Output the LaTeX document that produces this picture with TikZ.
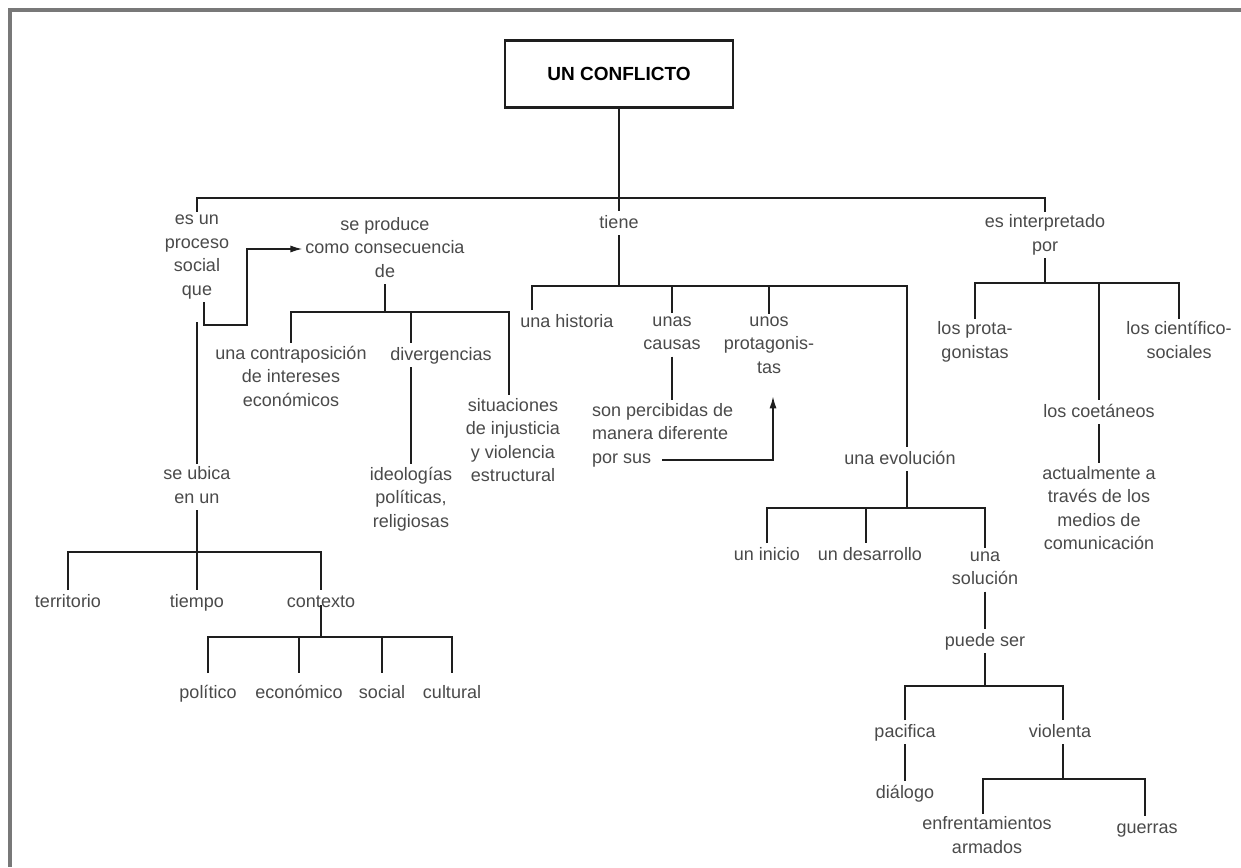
\documentclass[tikz,border=0pt]{standalone}
\usepackage{fontspec}
\setmainfont{Liberation Sans}
\usetikzlibrary{arrows.meta}
\definecolor{txtgray}{HTML}{4A4A4A}
\definecolor{lncol}{HTML}{1E1E1E}
\definecolor{frm}{HTML}{787878}
\newcommand\lblstrut{\rule[-4pt]{0pt}{18pt}}
\begin{document}
\begin{tikzpicture}[x=1pt,y=-1pt,
  lbl/.style={font=\fontsize{18}{23.5}\selectfont, text=txtgray, align=center, inner sep=3pt, outer sep=0pt,
    execute at begin node=\lblstrut, execute at end node=\lblstrut},
  ln/.style={draw=lncol, line width=1.5pt},
  arr/.style={ln, -{Latex[length=12pt,width=7pt]}}]
\useasboundingbox (0,0) rectangle (1241,867);
\fill[white] (0,0) rectangle (1241,867);
\fill[frm] (8,8) rectangle (1241,12);
\fill[frm] (8,8) rectangle (12,867);

% root
\node[draw=lncol, line width=1.5pt, minimum width=228pt, minimum height=68pt,
      font=\bfseries\fontsize{19}{22}\selectfont] (root) at (619,74) {UN CONFLICTO};
\draw[lncol, line width=1pt] ([yshift=-2pt]root.north west) -- ([yshift=-2pt]root.north east);
\draw[lncol, line width=1pt] ([yshift=2pt]root.south west) -- ([yshift=2pt]root.south east);

% level 1
\node[lbl] (proc) at (197,257) {es un\\proceso\\social\\que};
\node[lbl] (tiene) at (619,223) {tiene};
\node[lbl] (interp) at (1045,235) {es interpretado\\por};
\coordinate (j0) at (619,198);
\draw[ln] (root.south) -- (j0);
\draw[ln] (proc.north) |- (j0) -| (interp.north);
\draw[ln] (j0) -- (tiene.north);

% se produce
\node[lbl] (prod) at (385,249) {se produce\\como consecuencia\\de};
\coordinate (a1) at (247,325);
\draw[arr] ([xshift=7pt]proc.south) |- (a1) |- (prod.west);

\node[lbl] (contra) at (291,378) {una contraposición\\de intereses\\económicos};
\node[lbl] (diverg) at (441,355) {divergencias};
\node[lbl] (situ) at (513,442) {situaciones\\de injusticia\\y violencia\\estructural};
\node[lbl] (ideol) at (411,499) {ideologías\\políticas,\\religiosas};
\coordinate (j3) at (385,312);
\draw[ln] (prod.south) -- (j3);
\draw[ln] (contra.north) |- (j3) -| ([xshift=-4pt]situ.north);
\draw[ln] (j3) -| ([xshift=-30pt]diverg.north);
\draw[ln] (diverg.south -| ideol.north) -- (ideol.north);

% se ubica
\node[lbl] (ubica) at (197,487) {se ubica\\en un};
\draw[ln] ([yshift=-20pt]proc.south) -- (ubica.north);
\node[lbl] (terr) at (68,602) {territorio};
\node[lbl] (tiempo) at (197,602) {tiempo};
\node[lbl] (contexto) at (321,602) {contexto};
\coordinate (j1) at (197,552);
\draw[ln] (ubica.south) -- (j1);
\draw[ln] (terr.north) |- (j1) -| (contexto.north);
\draw[ln] (j1) -- (tiempo.north);
\node[lbl] (pol) at (208,693) {político};
\node[lbl] (eco) at (299,693) {económico};
\node[lbl] (soc) at (382,693) {social};
\node[lbl] (cult) at (452,693) {cultural};
\coordinate (j2) at (321,637);
\draw[ln] ([yshift=-3pt]contexto.center) -- (j2);
\draw[ln] ([yshift=8pt]pol.north) |- (j2) -| ([yshift=8pt]cult.north);
\draw[ln] (j2) -| ([yshift=8pt]eco.north);
\draw[ln] (j2) -| ([yshift=8pt]soc.north);

% tiene
\node[lbl] (hist) at (567,322) {una historia};
\node[lbl] (causas) at (672,335) {unas\\causas};
\node[lbl] (protag) at (769,347) {unos\\protagonis-\\tas};
\node[lbl] (evol) at (900,459) {una evolución};
\coordinate (j4) at (619,286);
\draw[ln] (tiene.south) -- (j4);
\draw[ln] ([xshift=-35pt]hist.north) |- (j4) -| ([xshift=7pt]evol.north);
\draw[ln] (j4) -| (causas.north);
\draw[ln] (j4) -| (protag.north);
\node[lbl, align=left, anchor=west] (perc) at (589,435) {son percibidas de\\manera diferente\\por sus};
\draw[ln] (causas.south) -- (causas.south |- perc.north);
\coordinate (ps) at (662,460);
\draw[arr] (ps) -| ([xshift=4pt,yshift=-16pt]protag.south);

% evolucion
\node[lbl] (inicio) at (767,555) {un inicio};
\node[lbl] (desarr) at (870,555) {un desarrollo};
\node[lbl] (sol) at (985,570) {una\\solución};
\coordinate (j5) at (907,508);
\draw[ln] ([xshift=7pt]evol.south) -- (j5);
\draw[ln] (inicio.north) |- (j5) -| (sol.north);
\draw[ln] (j5) -| ([xshift=-4pt]desarr.north);
\node[lbl] (puede) at (985,641) {puede ser};
\draw[ln] (sol.south) -- (puede.north);
\node[lbl] (pac) at (905,732) {pacifica};
\node[lbl] (viol) at (1060,732) {violenta};
\coordinate (j6) at (985,686);
\draw[ln] (puede.south) -- (j6);
\draw[ln] (pac.north) |- (j6) -| ([xshift=3pt]viol.north);
\node[lbl] (dial) at (905,793) {diálogo};
\draw[ln] (pac.south) -- (dial.north);
\node[lbl] (enf) at (987,837) {enfrentamientos\\armados};
\node[lbl] (guerras) at (1147,828) {guerras};
\coordinate (j7) at (1063,779);
\draw[ln] ([xshift=3pt]viol.south) -- (j7);
\draw[ln] ([xshift=-4pt]enf.north) |- (j7) -| ([xshift=-2pt]guerras.north);

% interpretado
\node[lbl] (prot) at (975,342) {los prota-\\gonistas};
\node[lbl] (coet) at (1099,412) {los coetáneos};
\node[lbl] (cient) at (1179,342) {los científico-\\sociales};
\coordinate (j8) at (1045,283);
\draw[ln] (interp.south) -- (j8);
\draw[ln] (prot.north) |- (j8) -| (cient.north);
\draw[ln] (j8) -| (coet.north);
\node[lbl] (act) at (1099,510) {actualmente a\\través de los\\medios de\\comunicación};
\draw[ln] (coet.south) -- (act.north);
\end{tikzpicture}
\end{document}
